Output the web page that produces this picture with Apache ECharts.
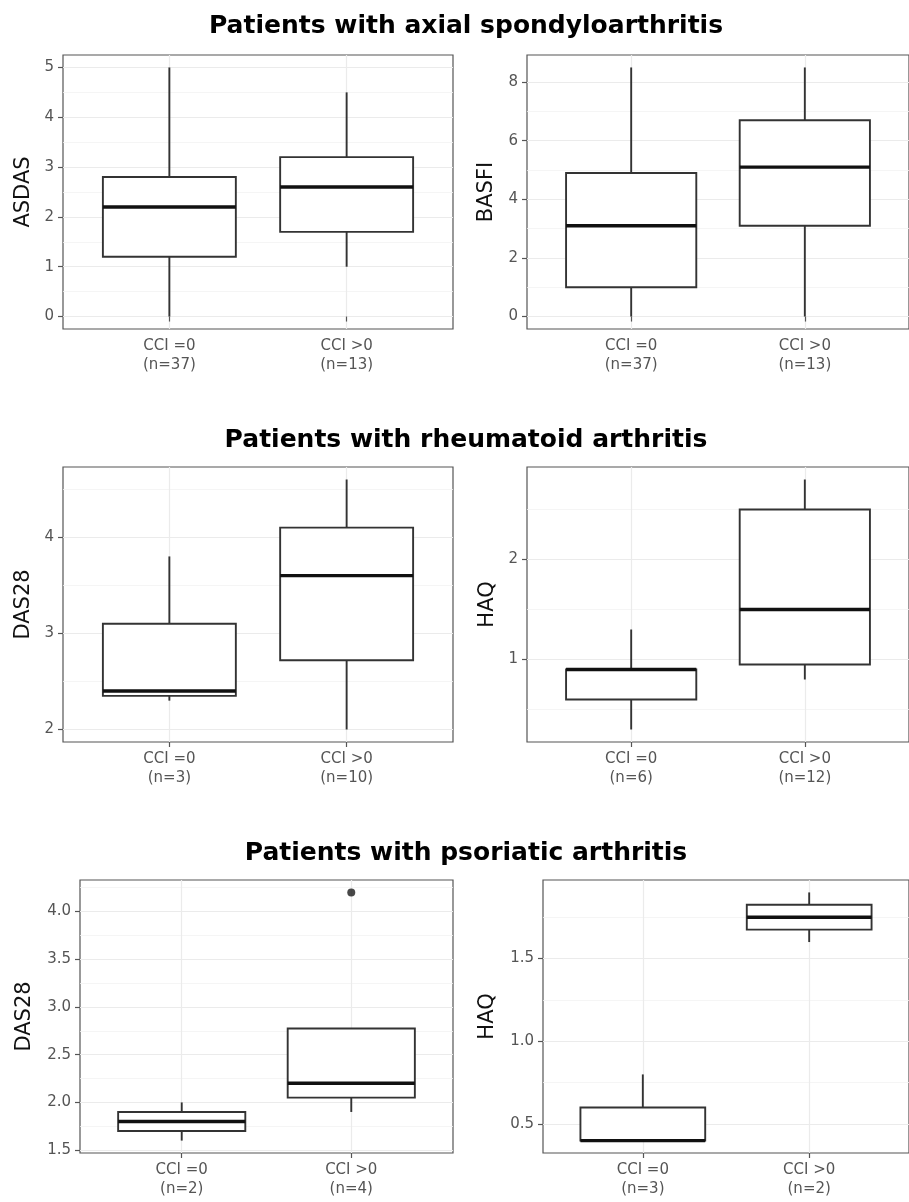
<!DOCTYPE html>
<html>
<head>
<meta charset="utf-8">
<script src="https://cdn.jsdelivr.net/npm/echarts@6/dist/echarts.min.js"></script>
<style>
  html, body { margin: 0; padding: 0; background: #ffffff; }
  #chart { width: 909px; height: 1202px; }
</style>
</head>
<body>
<div id="chart"></div>
<script>
// Group labels on the x axis
const categories = ['CCI =0', 'CCI >0'];

// Box statistics per group: [lower whisker, Q1, median, Q3, upper whisker]
const asdasStats    = [[0, 1.2, 2.2, 2.8, 5.0], [1.0, 1.7, 2.6, 3.2, 4.5]];
const basfiStats    = [[0, 1.0, 3.1, 4.9, 8.5], [0, 3.1, 5.1, 6.7, 8.5]];
const raDas28Stats  = [[2.3, 2.35, 2.4, 3.1, 3.8], [2.0, 2.72, 3.6, 4.1, 4.6]];
const raHaqStats    = [[0.3, 0.6, 0.9, 0.9, 1.3], [0.8, 0.95, 1.5, 2.5, 2.8]];
const psaDas28Stats = [[1.6, 1.7, 1.8, 1.9, 2.0], [1.9, 2.05, 2.2, 2.775, 2.3]];
const psaHaqStats   = [[0.4, 0.4, 0.4, 0.6, 0.8], [1.6, 1.675, 1.75, 1.825, 1.9]];

// Outlying observations per group
const asdasOutliers    = [[], []];
const basfiOutliers    = [[], []];
const raDas28Outliers  = [[], []];
const raHaqOutliers    = [[], []];
const psaDas28Outliers = [[], [4.2]];
const psaHaqOutliers   = [[], []];

// Group sizes
const asdasN    = [37, 13];
const basfiN    = [37, 13];
const raDas28N  = [3, 10];
const raHaqN    = [6, 12];
const psaDas28N = [2, 4];
const psaHaqN   = [3, 2];

// Y tick labels
const asdasTicks    = [0, 1, 2, 3, 4, 5];
const basfiTicks    = [0, 2, 4, 6, 8];
const raDas28Ticks  = [2, 3, 4];
const raHaqTicks    = [1, 2];
const psaDas28Ticks = [1.5, 2.0, 2.5, 3.0, 3.5, 4.0];
const psaHaqTicks   = [0.5, 1.0, 1.5];

// Row headings
const rowTitles = [
  'Patients with axial spondyloarthritis',
  'Patients with rheumatoid arthritis',
  'Patients with psoriatic arthritis'
];

const panels = [
  { name: 'ASDAS', stats: asdasStats,    outliers: asdasOutliers,    n: asdasN,    ticks: asdasTicks,    digits: 0 },
  { name: 'BASFI', stats: basfiStats,    outliers: basfiOutliers,    n: basfiN,    ticks: basfiTicks,    digits: 0 },
  { name: 'DAS28', stats: raDas28Stats,  outliers: raDas28Outliers,  n: raDas28N,  ticks: raDas28Ticks,  digits: 0 },
  { name: 'HAQ',   stats: raHaqStats,    outliers: raHaqOutliers,    n: raHaqN,    ticks: raHaqTicks,    digits: 0 },
  { name: 'DAS28', stats: psaDas28Stats, outliers: psaDas28Outliers, n: psaDas28N, ticks: psaDas28Ticks, digits: 1 },
  { name: 'HAQ',   stats: psaHaqStats,   outliers: psaHaqOutliers,   n: psaHaqN,   ticks: psaHaqTicks,   digits: 1 }
];

// Panel placement (pixels)
const layout = [
  { left: 63,  top: 55,  width: 390, height: 274, nameGap: 29 },
  { left: 527, top: 55,  width: 390, height: 274, nameGap: 30 },
  { left: 63,  top: 467, width: 390, height: 275, nameGap: 29 },
  { left: 527, top: 467, width: 390, height: 275, nameGap: 29 },
  { left: 80,  top: 880, width: 373, height: 273, nameGap: 45 },
  { left: 543, top: 880, width: 374, height: 273, nameGap: 45 }
];
const titleY = [26.5, 440, 853];

const FONT = 'DejaVu Sans';
const GRID_COLOR = '#ebebeb';
const FRAME_COLOR = '#555555';
const BOX_COLOR = '#333333';

// Expanded data range (5% on each side)
function yRange(p) {
  const vals = [];
  p.stats.forEach(s => s.forEach(v => vals.push(v)));
  p.outliers.forEach(o => o.forEach(v => vals.push(v)));
  const lo = Math.min(...vals), hi = Math.max(...vals);
  const pad = (hi - lo) * 0.05;
  return [lo - pad, hi + pad];
}

// Minor grid positions halfway between major ticks
function minorValues(ticks, range) {
  const step = ticks[1] - ticks[0];
  const out = [];
  for (let t = ticks[0] - step; t <= ticks[ticks.length - 1] + step; t += step) {
    const m = +(t + step / 2).toFixed(6);
    if (m > range[0] && m < range[1]) out.push(m);
  }
  return out;
}

function renderBox(params, api) {
  const x = api.value(0);
  const lo = api.value(1), q1 = api.value(2), med = api.value(3), q3 = api.value(4), hi = api.value(5);
  const cx = api.coord([x, med])[0];
  const half = api.size([0.75, 0])[0] / 2;
  const py = v => api.coord([x, v])[1];
  const yLo = py(lo), yQ1 = py(q1), yMed = py(med), yQ3 = py(q3), yHi = py(hi);
  const lineStyle = { stroke: BOX_COLOR, lineWidth: 1.9 };
  return {
    type: 'group',
    children: [
      { type: 'line', shape: { x1: cx, y1: yLo, x2: cx, y2: yQ1 }, style: lineStyle },
      { type: 'line', shape: { x1: cx, y1: yQ3, x2: cx, y2: yHi }, style: lineStyle },
      { type: 'rect', shape: { x: cx - half, y: yQ3, width: 2 * half, height: yQ1 - yQ3 },
        style: { fill: '#ffffff', stroke: BOX_COLOR, lineWidth: 1.9 } },
      { type: 'line', shape: { x1: cx - half, y1: yMed, x2: cx + half, y2: yMed },
        style: { stroke: '#111111', lineWidth: 3.4 } }
    ]
  };
}

const grid = [], xAxis = [], yAxis = [], series = [];

panels.forEach((p, i) => {
  const L = layout[i];
  const range = yRange(p);
  grid.push({
    left: L.left, top: L.top, width: L.width, height: L.height,
    show: true, borderColor: FRAME_COLOR, borderWidth: 1.2, backgroundColor: '#ffffff'
  });
  xAxis.push({
    type: 'value', gridIndex: i, min: 0.4, max: 2.6,
    axisLine: { show: false },
    axisTick: { show: true, customValues: [1, 2], length: 5, lineStyle: { color: FRAME_COLOR, width: 1.2 } },
    axisLabel: {
      customValues: [1, 2], margin: 8, fontFamily: FONT, fontSize: 15, color: '#555555', lineHeight: 19,
      formatter: v => categories[Math.round(v) - 1] + '\n(n=' + p.n[Math.round(v) - 1] + ')'
    },
    splitLine: { show: true, lineStyle: { color: GRID_COLOR, width: 1.2 } }
  });
  // main y axis: labels, ticks, major grid lines
  yAxis.push({
    type: 'value', gridIndex: i, min: range[0], max: range[1],
    name: p.name, nameLocation: 'middle', nameGap: L.nameGap,
    nameTextStyle: { fontFamily: FONT, fontSize: 21, color: '#111111' },
    axisLine: { show: false },
    axisTick: { show: true, customValues: p.ticks, length: 5, lineStyle: { color: FRAME_COLOR, width: 1.2 } },
    axisLabel: {
      customValues: p.ticks, margin: 9, fontFamily: FONT, fontSize: 15, color: '#555555',
      formatter: v => Number(v).toFixed(p.digits)
    },
    splitLine: { show: true, lineStyle: { color: GRID_COLOR, width: 1.2 } }
  });
  // companion y axis: minor grid lines only
  yAxis.push({
    type: 'value', gridIndex: i, min: range[0], max: range[1], position: 'left',
    axisLine: { show: false },
    axisTick: { show: false, customValues: minorValues(p.ticks, range) },
    axisLabel: { show: false },
    splitLine: { show: true, lineStyle: { color: '#f2f2f2', width: 0.8 } }
  });

  series.push({
    type: 'custom', xAxisIndex: i, yAxisIndex: 2 * i, renderItem: renderBox,
    encode: { x: 0, y: [1, 2, 3, 4, 5] },
    data: p.stats.map((s, k) => [k + 1].concat(s)),
    z: 3
  });
  const outlierPts = [];
  p.outliers.forEach((o, k) => o.forEach(v => outlierPts.push([k + 1, v])));
  if (outlierPts.length) {
    series.push({
      type: 'scatter', xAxisIndex: i, yAxisIndex: 2 * i, data: outlierPts,
      symbol: 'circle', symbolSize: 8, itemStyle: { color: '#1a1a1a' }, z: 4
    });
  }
});

const graphic = rowTitles.map((t, r) => ({
  type: 'text', x: 466, y: titleY[r],
  style: {
    text: t, fontFamily: FONT, fontWeight: 'bold', fontSize: 25, fill: '#000000',
    textAlign: 'center', textVerticalAlign: 'middle'
  }
}));

const chart = echarts.init(document.getElementById('chart'), null, { renderer: 'canvas' });
chart.setOption({
  animation: false,
  backgroundColor: '#ffffff',
  grid, xAxis, yAxis, series, graphic
});
</script>
</body>
</html>
